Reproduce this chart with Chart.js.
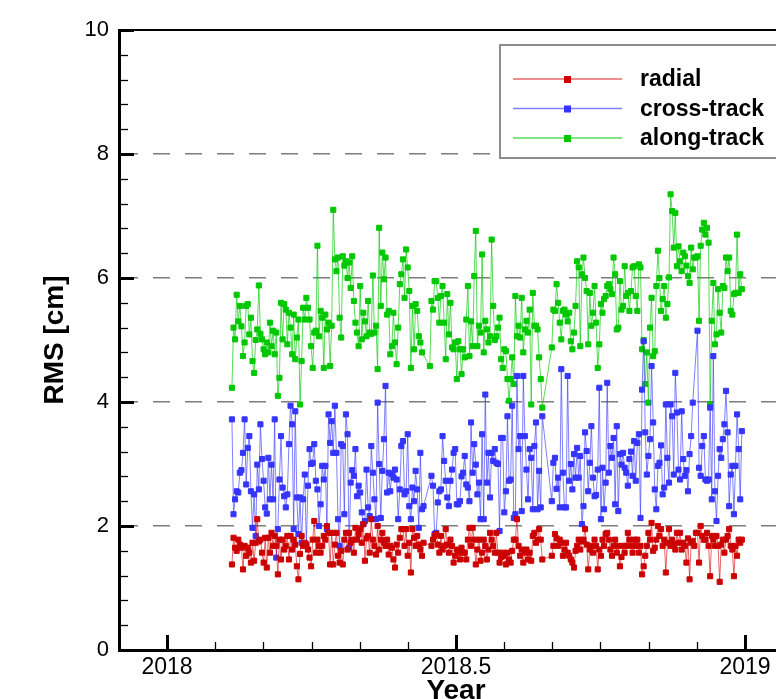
<!DOCTYPE html>
<html>
<head>
<meta charset="utf-8">
<script src="https://cdn.jsdelivr.net/npm/chart.js@4/dist/chart.umd.min.js"></script>
<style>
  html, body { margin: 0; padding: 0; background: #fff; overflow: hidden; }
  #wrap { width: 810px; height: 720px; }
</style>
</head>
<body>
<div id="wrap"><canvas id="rmsChart" width="810" height="720"></canvas></div>
<script>
// daily orbit RMS, first sample on day 41 of 2018
const firstDay = 41;

const radial = [
  1.38, 1.81, 1.65, 1.6, 1.78, 1.7, 1.65, 1.3, 1.68, 1.52, 1.65, 1.57, 1.41, 1.73, 1.44, 1.73, 2.11, 1.75, 1.78, 1.57,
  1.41, 1.81, 1.33, 1.81, 1.57, 1.89, 1.68, 1.84, 1.68, 1.22, 1.78, 1.46, 1.78, 1.62, 1.68, 1.84, 1.46, 1.84, 1.62, 1.78,
  1.7, 1.35, 1.14, 1.55, 1.84, 1.68, 1.73, 1.7, 1.62, 1.49, 1.35, 1.78, 2.08, 1.57, 1.78, 1.68, 1.57, 1.68, 1.84, 1.78,
  2.0, 1.89, 1.38, 1.89,
  1.38, 1.7, 1.89, 1.52, 1.41, 1.6, 1.38, 1.78, 1.89, 1.62, 1.89, 1.73, 1.78, 1.57, 1.97, 1.78, 1.87, 1.95, 1.73, 2.03,
  1.44, 1.8, 1.84, 1.57, 2.11, 1.78, 1.68, 1.54, 2.0, 1.62, 1.78, 1.89, 1.73, 1.68, 1.78, 1.54, 1.68, 1.65, 1.46, 1.33,
  1.7, 1.57, 1.81, 1.95, 1.95, 1.68, 1.95, 1.52, 1.73, 1.25, 1.95, 1.81, 1.68, 1.84, 1.7, 1.62, 1.52, 1.73, null, null,
  null, null, 1.68, 1.78, 1.84,
  1.87, 1.7, 1.57, 1.84, 1.62, 1.68, 1.95, 1.7, 1.57, 1.78, 1.68, 1.41, 1.52, 1.62, 1.57, 1.46, 1.65, 1.57, 1.57, 1.46,
  1.78, 1.97, 1.68, 1.97, 1.78, 1.38, 1.62, 1.78, 1.44, 1.57, 1.78, 1.68, 1.46, 1.62, 1.89, 1.78, 1.68, 1.57, 1.89, 1.57,
  1.41, 1.5, 1.57, 1.52, 1.38, 1.57, 1.46, 1.41, 1.6, 1.78, 1.78, 2.11, 1.68, 1.52, 1.62, 1.41, 1.57, 1.62, 1.46, 1.57,
  1.44, 1.84, 1.89, 1.73, 1.78,
  1.95, 1.78, 1.46, null, null, null, null, null, 1.52, 1.68, 1.87, 1.8, 1.68, 1.78, 1.73, 1.52, 1.62, 1.73, 1.57, 1.52,
  1.46, 1.41, 1.33, 1.6, 1.68, 1.78, 1.62, 1.75, 1.78, 1.95, 1.7, 1.3, 1.62, 1.68, 1.57, 1.78, 1.68, 1.3, 1.62, 1.52,
  1.78, 1.68, 1.87, 1.89, 1.78, 1.62, 1.52, 1.68, 1.78, 1.57, 1.68, 1.35, 1.5, 1.68, 1.57, 1.68, 1.89, 1.78, 1.68, 1.57,
  1.78, 1.68, 1.78, 1.57, 1.68, 1.22,
  1.35, 1.52, 1.68, 1.89, 1.78, 2.05, 1.6, 1.65, 1.78, 2.0, 1.84, 1.95, 1.68, 1.78, 1.25, 1.73, 1.95, 1.68, 1.78, 1.7,
  1.62, 1.89, 1.73, 1.89, 1.62, 1.73, 1.68, 1.41, 1.8, 1.14, 1.73, 1.76, 1.68, 1.89, 1.89, 1.41, 2.0, 1.84, 1.78, 1.78,
  1.89, 1.68, 1.19, 1.84, 1.78, 1.68, 1.84, 1.68, 1.1, 1.7, 1.78, 1.57, 1.78, 1.84, 1.95, 1.68, 1.62, 1.19, 1.68, 1.52,
  1.78, 1.73, 1.78
];

const crossTrack = [
  3.72, 2.19, 2.43, 2.56, 2.54, 2.86, 2.9, 3.18, 3.72, 2.67, 3.26, 3.45, 2.56, 1.97, 2.51, 1.84, 2.99, 2.59, 3.64, 3.08,
  2.73, 2.3, 2.2, 3.1, 2.43, 2.99, 2.43, 3.72, 1.49, 1.95, 2.75, 3.45, 2.62, 2.48, 2.3, 2.51, 3.32, 3.94, 3.64, 1.95,
  3.85, 2.46, 1.87, 2.46, 1.73, 2.43, 2.83, 1.7, 2.65, 3.24, 3.0, 3.02, 3.32, 2.73, 2.59, 2.0, 2.35, 2.97, 2.75, 2.97,
  1.95, 3.8, 3.34, 3.69,
  3.18, 3.94, 3.18, 2.11, 1.68, 3.32, 3.29, 2.19, 3.8, 3.48, 1.65, 2.7, 2.9, 2.81, 3.24, 2.48, 2.65, 2.54, 2.22, 2.03,
  2.08, 2.91, 2.3, 2.16, 3.29, 2.86, 2.43, 2.11, 3.99, 3.0, 2.13, 2.89, 3.4, 4.26, 2.54, 2.86, 2.56, 2.84, 2.78, 2.91,
  2.75, 2.11, 2.59, 3.29, 3.37, 2.51, 2.56, 3.48, 2.32, 2.11, 2.62, 2.4, 2.89, 2.59, 1.97, 3.18, 2.27, 2.32, null, null,
  null, null, 2.81, 2.65, 1.87,
  1.89, 2.38, 2.56, 2.59, 3.45, 3.05, 2.73, 2.46, 2.32, 2.73, 2.91, 3.18, 3.24, 2.35, 2.35, 2.4, 2.8, 2.86, 3.13, 2.67,
  2.62, 2.4, 3.67, 2.86, 3.32, 2.99, 2.51, 2.7, 2.11, 3.48, 2.11, 4.12, 2.7, 3.18, 2.46, 3.18, 3.05, 3.24, 3.02, 3.0,
  1.92, 3.42, 3.42, 2.22, 2.56, 3.77, 2.73, 2.75, 3.94, 2.13, 2.19, 4.42, 3.24, 3.45, 2.24, 4.42, 3.45, 2.91, 2.43, 3.24,
  3.1, 2.27, 3.29, 3.67, 2.27,
  2.89, 2.3, 3.77, null, null, null, null, null, 2.4, 3.02, 3.1, 2.6, 2.78, 2.3, 4.53, 2.86, 2.3, 2.3, 4.42, 2.73,
  3.0, 2.59, 3.16, 2.78, 3.26, 2.78, 3.13, 2.03, 2.32, 3.51, 3.21, 2.56, 3.02, 3.61, 2.78, 2.48, 2.5, 2.91, 4.23, 2.11,
  2.94, 2.27, 2.7, 4.31, 2.86, 3.29, 3.1, 3.42, 2.35, 3.61, 2.24, 3.16, 2.99, 3.18, 2.94, 2.86, 2.65, 3.08, 3.2, 2.81,
  3.37, 2.73, 3.34, 3.48, 2.13, 4.2,
  4.98, 3.51, 2.83, 3.13, 3.4, 4.58, 3.67, 2.59, 2.27, 2.97, 3.02, 3.3, 2.51, 2.62, 3.96, 3.1, 2.7, 3.96, 3.77, 2.83,
  4.47, 3.83, 2.91, 2.75, 3.85, 3.08, 2.81, 2.9, 2.56, 3.16, 3.45, 3.99, null, null, 5.15, 2.94, 2.81, 3.29, 3.45, 2.75,
  2.73, 2.75, 3.91, 2.43, 4.74, 2.56, 2.08, 2.81, 3.24, 3.1, 3.4, 3.64, 4.18, 3.51, 2.32, 2.83, 2.97, 2.19, 2.97, 3.8,
  3.24, 2.43, 3.53
];

const alongTrack = [
  4.23, 5.2, 5.01, 5.73, 5.3, 5.55, 5.22, 4.74, 4.96, 5.55, 5.58, 5.09, 5.36, 4.66, 4.47, 5.0, 5.17, 5.88, 5.1, 5.01,
  4.85, 4.77, 4.96, 4.8, 5.28, 4.9, 5.15, 4.77, 5.12, 4.1, 4.39, 5.6, 5.01, 5.58, 5.49, 4.93, 5.44, 5.2, 4.77, 5.41,
  4.69, 5.04, 5.33, 3.96, 4.66, 5.52, 5.33, 5.68, 5.52, 5.33, 4.9, 4.55, 5.12, 5.15, 6.52, 5.06, 5.47, 5.36, 4.55, 5.41,
  5.17, 5.28, 4.58, 5.23,
  7.1, 6.3, 6.11, 6.33, 5.36, 5.04, 6.35, 6.2, 6.27, 6.0, 6.25, 5.84, 6.35, 5.63, 5.28, 5.12, 4.9, 5.87, 5.01, 5.44,
  5.3, 5.06, 5.63, 5.12, 5.1, 6.04, 5.12, 5.23, 4.53, 6.81, 5.55, 6.41, 5.98, 6.33, 5.41, 5.47, 4.77, 4.9, 5.44, 4.96,
  4.61, 5.2, 5.9, 6.06, 6.3, 5.68, 6.46, 6.17, 5.79, 4.55, 5.55, 4.85, 5.58, 5.47, 5.06, 4.96, 4.8, null, null, null,
  null, 4.58, 5.63, 5.49, 5.95,
  5.95, 5.68, 5.28, 5.71, 5.87, 5.28, 4.69, 5.74, 5.09, 5.6, 4.88, 4.85, 4.96, 4.37, 4.98, 4.85, 4.45, 4.85, 4.72, 5.33,
  5.87, 4.74, 5.3, 4.9, 6.03, 6.76, 4.9, 5.23, 5.12, 6.38, 4.8, 5.31, 5.17, 4.96, 5.06, 6.62, 5.55, 5.0, 5.06, 5.2,
  5.36, 4.69, 4.55, 4.85, 4.82, 4.37, 4.02, 4.37, 4.72, 4.29, 5.71, 5.06, 5.23, 5.04, 5.68, 4.8, 5.17, 5.31, 5.12, 5.49,
  3.96, 5.76, 5.23, 5.23, 5.17,
  4.72, 4.37, 3.91, null, null, null, null, null, 4.88, 5.49, 5.47, 5.9, 5.6, 5.28, 5.01, 5.47, 5.49, 5.41, 5.3, 5.44,
  4.98, 4.85, 5.12, 5.55, 6.27, 6.17, 4.9, 6.06, 6.33, 6.0, 5.79, 4.93, 5.76, 5.23, 5.44, 5.87, 5.28, 4.55, 4.93, 5.58,
  5.44, 5.66, 5.71, 5.87, 5.9, 5.82, 5.74, 6.33, 6.06, 5.17, 5.2, 5.95, 5.49, 5.55, 6.19, 5.71, 5.76, 5.47, 5.79, 6.17,
  6.19, 5.71, 5.47, 6.22, 6.17, 4.85,
  5.0, 4.29, 4.8, 3.99, 5.2, 5.68, 4.74, 4.82, 5.87, 6.44, 6.0, 5.47, 5.66, 5.87, 5.36, 5.58, 6.01, 7.35, 7.08, 6.49,
  7.05, 6.19, 6.51, 6.27, 6.11, 6.41, 6.35, 6.2, 6.03, 5.92, 6.49, 6.14, 6.33, 6.33, 6.35, 5.31, 6.52, 6.78, 6.89, 6.7,
  6.81, 6.57, 3.96, 5.31, 5.92, 4.93, 5.09, 5.82, 5.44, 5.12, 5.87, 5.84, 6.33, 6.11, 6.33, 5.47, 5.41, 5.74, 5.76, 6.7,
  5.76, 6.06, 5.82
];

const seriesNames = ['radial', 'cross-track', 'along-track'];
const xTicks = [2018, 2018.5, 2019];
const yTicks = [0, 2, 4, 6, 8, 10];

const FONT = '"Liberation Sans", Arial, Helvetica, sans-serif';
Chart.defaults.font.family = FONT;
Chart.defaults.color = '#000';

const toPoints = arr => arr.map((v, i) => ({ x: 2018 + (firstDay + i) / 365, y: v }));

function series(label, values, mark, line) {
    return {
        label,
        data: toPoints(values),
        borderColor: line,
        backgroundColor: mark,
        borderWidth: 1,
        pointStyle: 'rect',
        pointRadius: 3.6,
        pointBorderWidth: 1,
        pointBackgroundColor: mark,
        pointBorderColor: mark,
        spanGaps: true,
        tension: 0
    };
}

// frame, inside ticks and boxed legend like the original plot
const framePlugin = {
    id: 'frame',
    afterDraw(chart) {
        const { ctx, chartArea: a, scales: { x, y } } = chart;
        ctx.save();
        ctx.strokeStyle = '#000';
        ctx.lineWidth = 2;
        ctx.beginPath();
        ctx.moveTo(a.left, a.top);
        ctx.lineTo(a.right, a.top);
        ctx.lineTo(a.right, a.bottom);
        ctx.stroke();

        // y ticks, minor every 0.4
        for (let k = 0; k <= 25; k++) {
            const py = Math.round(y.getPixelForValue(k * 0.4)) + 0.5;
            const major = k % 5 === 0;
            ctx.lineWidth = major ? 3 : 1.3;
            ctx.beginPath();
            ctx.moveTo(a.left, py);
            ctx.lineTo(a.left + (major ? 15 : 9), py);
            ctx.stroke();
        }
        // x ticks, minor every month
        for (let k = -1; k <= 13; k++) {
            const v = 2018 + k / 12;
            if (v <= x.min || v >= x.max) continue;
            const px = Math.round(x.getPixelForValue(v)) + 0.5;
            const major = k % 6 === 0;
            ctx.lineWidth = major ? 3 : 1.3;
            ctx.beginPath();
            ctx.moveTo(px, a.bottom);
            ctx.lineTo(px, a.bottom - (major ? 15 : 8));
            ctx.stroke();
        }

        // legend
        ctx.fillStyle = '#fff';
        ctx.fillRect(500, 45, 320, 113);
        ctx.strokeStyle = '#8c8c8c';
        ctx.lineWidth = 2;
        ctx.strokeRect(500, 45, 320, 113);
        ctx.font = 'bold 23px ' + FONT;
        ctx.textBaseline = 'middle';
        chart.data.datasets.forEach((ds, i) => {
            const ly = 79 + i * 29.5;
            ctx.strokeStyle = ds.borderColor;
            ctx.lineWidth = 1.5;
            ctx.beginPath();
            ctx.moveTo(513, ly);
            ctx.lineTo(622, ly);
            ctx.stroke();
            ctx.fillStyle = ds.pointBackgroundColor;
            ctx.fillRect(564, ly - 3, 7, 7);
            ctx.fillStyle = '#000';
            ctx.fillText(ds.label, 640, ly + 1);
        });
        ctx.restore();
    }
};

new Chart(document.getElementById('rmsChart').getContext('2d'), {
    type: 'line',
    data: {
        datasets: [
            series(seriesNames[0], radial, '#cc0000', 'rgba(215,0,0,0.6)'),
            series(seriesNames[1], crossTrack, '#3535ff', 'rgba(60,60,255,0.65)'),
            series(seriesNames[2], alongTrack, '#00c800', 'rgba(0,200,0,0.65)')
        ]
    },
    options: {
        responsive: false,
        animation: false,
        layout: { padding: { top: 30, right: 17, left: 0, bottom: 0 } },
        plugins: { legend: { display: false }, tooltip: { enabled: false } },
        scales: {
            x: {
                type: 'linear',
                min: 2018 - 48 / 578,
                max: 2019 + 48 / 578,
                afterBuildTicks: s => { s.ticks = xTicks.map(v => ({ value: v })); },
                afterFit: s => { s.height = 70; },
                ticks: { padding: 4, font: { size: 23 }, maxRotation: 0, autoSkip: false, callback: v => String(v) },
                grid: { display: false, drawTicks: false },
                border: { display: true, color: '#000', width: 3 },
                title: { display: true, text: 'Year', font: { size: 28, weight: 'bold' }, padding: { top: 0, bottom: 12 } }
            },
            y: {
                min: 0,
                max: 10,
                afterBuildTicks: s => { s.ticks = yTicks.map(v => ({ value: v })); },
                afterFit: s => { s.width = 119; },
                ticks: { padding: 10, font: { size: 22 } },
                grid: {
                    drawTicks: false,
                    lineWidth: 1.5,
                    color: c => (c.tick && (c.tick.value === 0 || c.tick.value === 10)) ? 'rgba(0,0,0,0)' : '#7d7d7d'
                },
                border: { display: true, color: '#000', width: 3, dash: [17, 15] },
                title: { display: true, text: 'RMS [cm]', font: { size: 28, weight: 'bold' }, padding: { top: 38, bottom: 0 } }
            }
        }
    },
    plugins: [framePlugin]
});
</script>
</body>
</html>
